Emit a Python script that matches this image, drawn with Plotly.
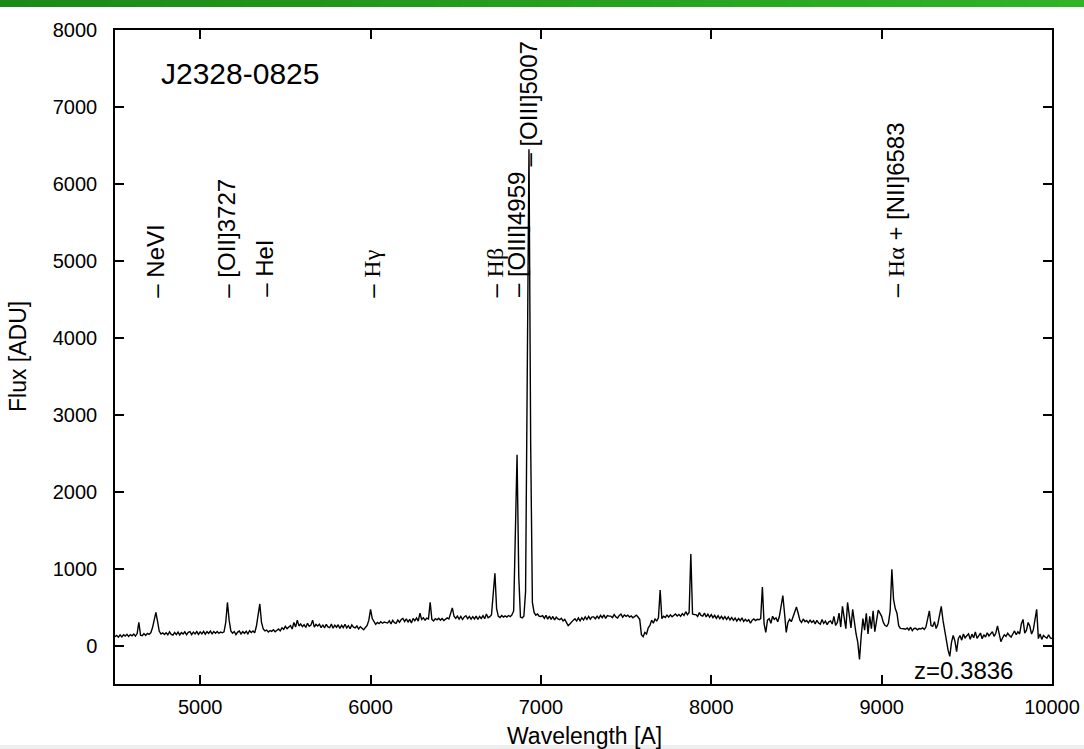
import numpy as np
import plotly.graph_objects as go

# ---------------- data ----------------
object_name = "J2328-0825"
redshift = 0.3836

wl_start = 4500   # Angstrom, first pixel
wl_step = 10      # Angstrom per pixel

# flux [ADU], one row per 100 A (4500 ... 9990), then the 10000 A pixel
flux = [
    115, 132, 108, 138, 112, 140, 122, 145, 118, 142,   # 4500
    126, 150, 122, 155, 300, 135, 128, 155, 132, 158,   # 4600
    145, 165, 230, 350, 430, 310, 185, 150, 165, 142,   # 4700
    165, 140, 178, 145, 135, 170, 142, 175, 138, 168,   # 4800
    150, 178, 140, 172, 180, 142, 175, 150, 182, 145,   # 4900
    178, 152, 185, 148, 180, 158, 188, 152, 182, 160,   # 5000
    182, 158, 175, 165, 178, 300, 560, 330, 190, 160,   # 5100
    182, 142, 175, 188, 150, 180, 158, 186, 152, 192,   # 5200
    170, 190, 165, 250, 420, 540, 300, 215, 190, 200,   # 5300
    175, 195, 185, 205, 180, 200, 215, 190, 230, 210,   # 5400
    250, 220, 235, 260, 215, 300, 240, 330, 255, 280,   # 5500
    245, 270, 235, 290, 250, 265, 330, 240, 275, 255,   # 5600
    278, 232, 270, 228, 276, 242, 232, 280, 225, 265,   # 5700
    238, 270, 222, 262, 232, 276, 228, 258, 218, 268,   # 5800
    240, 230, 255, 215, 245, 228, 205, 235, 260, 330,   # 5900
    470, 350, 320, 275, 300, 285, 310, 290, 305, 295,   # 6000
    292, 322, 282, 328, 298, 288, 332, 302, 338, 352,   # 6100
    312, 348, 302, 342, 292, 352, 322, 358, 318, 420,   # 6200
    340, 360, 330, 355, 345, 560, 340, 320, 350, 335,   # 6300
    355, 330, 350, 325, 340, 360, 345, 430, 490, 380,   # 6400
    352, 382, 342, 378, 338, 372, 388, 348, 378, 342,   # 6500
    375, 345, 382, 338, 378, 352, 388, 348, 410, 362,   # 6600
    375, 400, 700, 940, 480, 380, 365, 390, 370, 385,   # 6700
    370, 390, 375, 400, 450, 1300, 2480, 900, 370, 360, # 6800
    380, 700, 4200, 6450, 2600, 560, 430, 395, 410, 380,  # 6900
    378, 388, 352, 392, 342, 382, 338, 378, 332, 368,   # 7000
    345, 335, 355, 320, 340, 300, 260, 280, 310, 330,   # 7100
    348, 318, 358, 322, 362, 332, 372, 338, 378, 342,   # 7200
    372, 372, 348, 382, 352, 392, 362, 398, 352, 388,   # 7300
    382, 382, 362, 402, 372, 358, 392, 408, 368, 398,   # 7400
    380, 395, 370, 385, 360, 380, 395, 370, 340, 140,   # 7500
    115, 170, 150, 230, 260, 330, 290, 345, 320, 360,   # 7600
    720, 350, 380, 365, 395, 370, 400, 375, 390, 410,   # 7700
    385, 405, 380, 415, 390, 440, 400, 430, 1190, 410,  # 7800
    402, 402, 378, 428, 392, 382, 422, 372, 408, 368,   # 7900
    402, 362, 392, 352, 388, 348, 380, 342, 375, 338,   # 8000
    372, 332, 365, 328, 358, 318, 352, 322, 360, 312,   # 8100
    340, 315, 335, 290, 330, 345, 325, 340, 335, 350,   # 8200
    760, 280, 170, 330, 350, 290, 380, 340, 360, 310,   # 8300
    380, 520, 650, 420, 170, 300, 340, 310, 380, 450,   # 8400
    500, 420, 330, 300, 345, 310, 325, 295, 330, 300,   # 8500
    322, 282, 328, 292, 278, 338, 288, 318, 272, 308,   # 8600
    320, 280, 380, 260, 300, 420, 240, 510, 350, 220,   # 8700
    560, 380, 230, 470, 300, 150, 40, -180, 120, 350,   # 8800
    200, 420, 150, 380, 220, 450, 180, 350, 460, 420,   # 8900
    380, 300, 260, 250, 290, 450, 990, 600, 480, 420,   # 9000
    258, 222, 222, 218, 212, 228, 202, 238, 192, 222,   # 9100
    225, 205, 220, 215, 230, 210, 240, 330, 450, 260,   # 9200
    250, 310, 220, 280, 400, 510, 330, 200, 60, -60,    # 9300
    -140, 40, 130, 60, -80, 90, 130, 70, 150, 100,      # 9400
    128, 152, 82, 148, 102, 178, 92, 138, 162, 88,      # 9500
    140, 110, 165, 125, 150, 180, 120, 160, 255, 150,   # 9600
    50, 100, 140, 120, 160, 130, 110, 150, 190, 140,    # 9700
    180, 150, 280, 340, 160, 200, 300, 250, 150, 200,   # 9800
    320, 470, 90, 150, 80, 130, 110, 95, 140, 100,      # 9900
    90,                                                 # 10000
]
wavelength = wl_start + wl_step * np.arange(len(flux))

# emission lines marked above the spectrum
line_names = ["NeVI", "[OII]3727", "HeI", "Hγ", "Hβ", "[OIII]4959", "[OIII]5007", "Hα + [NII]6583"]
line_rest = [3426, 3727, 3889, 4340, 4861, 4959, 5007, 6563]
label_flux = [4500, 4500, 4500, 4500, 4500, 4500, 6200, 4500]

x_ticks = [5000, 6000, 7000, 8000, 9000, 10000]
y_ticks = [0, 1000, 2000, 3000, 4000, 5000, 6000, 7000, 8000]
x_range = [4500, 10000]
y_range = [-500, 8000]

# ---------------- figure ----------------
W, H = 1084, 749
ML, MR, MT, MB = 115, 32, 30, 65
PW, PH = W - ML - MR, H - MT - MB
SANS = "Liberation Sans, Arial, Helvetica, sans-serif"
SERIF = "'Liberation Serif'"


def px_x(px):
    return (px - ML) / PW


def px_y(py):
    return (H - MB - py) / PH


fig = go.Figure()
fig.add_trace(go.Scatter(
    x=wavelength, y=flux, mode="lines",
    line=dict(color="black", width=1.4),
    showlegend=False, hoverinfo="skip",
))

annotations = []
for name, rest, fy in zip(line_names, line_rest, label_flux):
    if name.startswith("H") and name[1] in "αβγδ":
        txt = f"<span style=\"font-family:{SERIF}\">{name[:2]}</span>{name[2:]}"
    else:
        txt = name
    annotations.append(dict(
        x=rest * (1 + redshift), y=fy, xref="x", yref="y",
        text="\u2013 " + txt, textangle=-90, showarrow=False,
        xanchor="center", yanchor="bottom",
        font=dict(size=24, family=SANS, color="black"),
    ))

annotations.append(dict(
    x=px_x(159), y=px_y(73), xref="paper", yref="paper",
    text=object_name, showarrow=False, xanchor="left", yanchor="middle",
    font=dict(size=30, family=SANS, color="black"),
))
annotations.append(dict(
    x=px_x(1015), y=px_y(670), xref="paper", yref="paper",
    text=f"z={redshift}", showarrow=False, xanchor="right", yanchor="middle",
    font=dict(size=24, family=SANS, color="black"),
))
annotations.append(dict(
    x=px_x(584), y=px_y(736), xref="paper", yref="paper",
    text="Wavelength [A]", showarrow=False, xanchor="center", yanchor="middle",
    font=dict(size=23, family=SANS, color="black"),
))
annotations.append(dict(
    x=px_x(18), y=px_y(357), xref="paper", yref="paper",
    text="Flux [ADU]", showarrow=False, textangle=-90,
    xanchor="center", yanchor="middle",
    font=dict(size=23, family=SANS, color="black"),
))

shapes = []
# green banner at the top, drawn as a left-to-right gradient
n_seg = 40
c0 = np.array([28, 138, 24])
c1 = np.array([48, 180, 38])
x_left, x_right = px_x(0), px_x(W)
for i in range(n_seg):
    f = i / (n_seg - 1)
    c = (c0 + (c1 - c0) * f).astype(int)
    shapes.append(dict(
        type="rect", xref="paper", yref="paper", layer="above",
        x0=x_left + (x_right - x_left) * i / n_seg,
        x1=x_left + (x_right - x_left) * (i + 1) / n_seg + 0.001,
        y0=px_y(7), y1=px_y(0),
        fillcolor=f"rgb({c[0]},{c[1]},{c[2]})", line=dict(width=0),
    ))
# light grey strip at the very bottom
shapes.append(dict(
    type="rect", xref="paper", yref="paper", layer="above",
    x0=x_left, x1=x_right, y0=px_y(H), y1=px_y(745),
    fillcolor="#eeeeee", line=dict(width=0),
))

axis_common = dict(
    showline=True, linecolor="black", linewidth=1.5, mirror="ticks",
    ticks="inside", ticklen=9, tickwidth=1.5, tickcolor="black",
    showgrid=False, zeroline=False, automargin=False,
    tickfont=dict(size=20, family=SANS, color="black"),
)

fig.update_layout(
    width=W, height=H, autosize=False,
    margin=dict(l=ML, r=MR, t=MT, b=MB, pad=0, autoexpand=False),
    paper_bgcolor="white", plot_bgcolor="white",
    font=dict(family=SANS, color="black"),
    xaxis=dict(range=x_range, tickvals=x_ticks, ticktext=[str(v) for v in x_ticks],
               ticklabelstandoff=4, **axis_common),
    yaxis=dict(range=y_range, tickvals=y_ticks, ticktext=[str(v) for v in y_ticks],
               ticklabelstandoff=12, **axis_common),
    annotations=annotations,
    shapes=shapes,
    showlegend=False,
)

fig.write_html("out.html")
